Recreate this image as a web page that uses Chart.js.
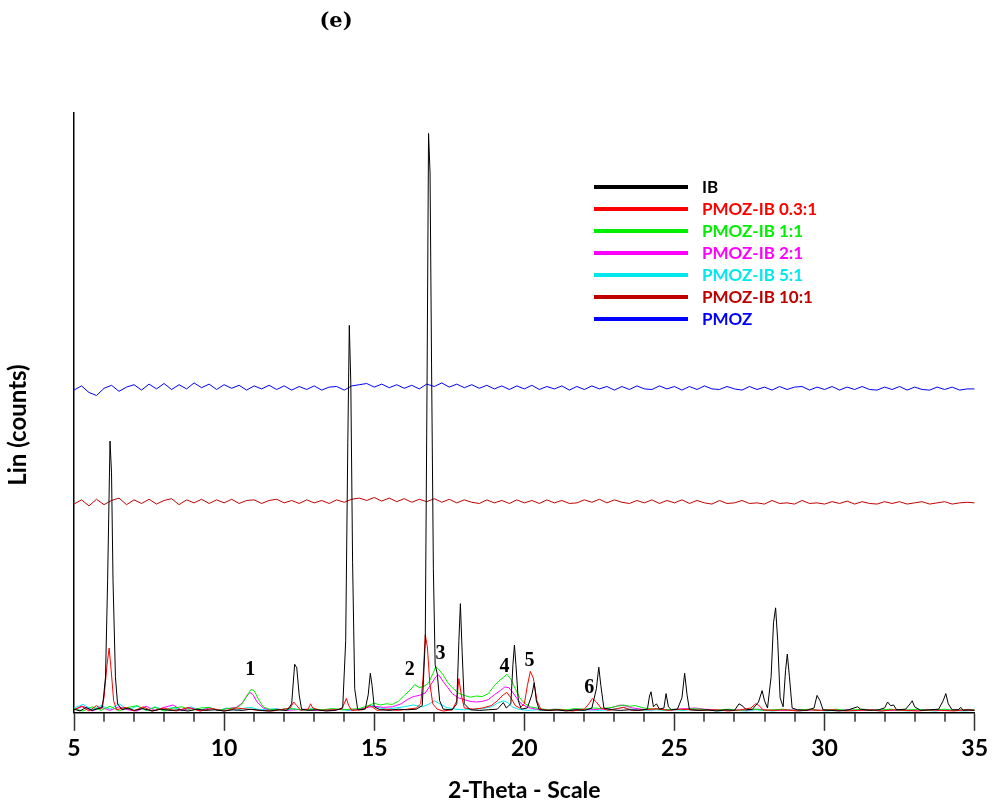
<!DOCTYPE html>
<html>
<head>
<meta charset="utf-8">
<title>XRD patterns (e)</title>
<script src="https://cdn.jsdelivr.net/npm/chart.js@4.4.0/dist/chart.umd.min.js"></script>
<style>
  html, body { margin: 0; padding: 0; background: #fff; }
  #wrap { width: 992px; height: 805px; }
</style>
</head>
<body>
<div id="wrap"><canvas id="xrd" width="992" height="805"></canvas></div>
<script>
/* ================================
   XRD patterns, panel (e)
   y is arbitrary (Lin counts), 10:1 and PMOZ are stacked upward
================================ */

// shared 2-theta grid for the two flat (amorphous) traces
const scanX = [
  5, 5.25, 5.5, 5.75, 6, 6.25, 6.5, 6.75, 7, 7.25,
  7.5, 7.75, 8, 8.25, 8.5, 8.75, 9, 9.25, 9.5, 9.75,
  10, 10.25, 10.5, 10.75, 11, 11.25, 11.5, 11.75, 12, 12.25,
  12.5, 12.75, 13, 13.25, 13.5, 13.75, 14, 14.25, 14.5, 14.75,
  15, 15.25, 15.5, 15.75, 16, 16.25, 16.5, 16.75, 17, 17.25,
  17.5, 17.75, 18, 18.25, 18.5, 18.75, 19, 19.25, 19.5, 19.75,
  20, 20.25, 20.5, 20.75, 21, 21.25, 21.5, 21.75, 22, 22.25,
  22.5, 22.75, 23, 23.25, 23.5, 23.75, 24, 24.25, 24.5, 24.75,
  25, 25.25, 25.5, 25.75, 26, 26.25, 26.5, 26.75, 27, 27.25,
  27.5, 27.75, 28, 28.25, 28.5, 28.75, 29, 29.25, 29.5, 29.75,
  30, 30.25, 30.5, 30.75, 31, 31.25, 31.5, 31.75, 32, 32.25,
  32.5, 32.75, 33, 33.25, 33.5, 33.75, 34, 34.25, 34.5, 34.75,
  35
];

const pmozY = [
  53.8, 54.5, 53.4, 52.9, 54.1, 54.6, 53.6, 54.3, 54.7, 53.8,
  54.8, 54.0, 54.9, 53.9, 54.7, 54.0, 55.0, 54.2, 54.8, 53.9,
  54.7, 54.1, 54.6, 53.8, 54.5, 54.0, 54.6, 53.9, 54.5, 53.8,
  54.4, 53.9, 54.5, 53.8, 54.3, 54.4, 53.8, 54.5, 54.7, 54.9,
  54.3, 54.8, 54.2, 54.7, 54.1, 54.6, 54.0, 54.8, 54.4, 55.0,
  54.3, 54.8, 54.2, 54.7, 54.1, 54.6, 54.0, 54.5, 53.9, 54.5,
  54.0, 54.6, 53.9, 54.4, 54.0, 54.5, 53.8, 54.4, 53.9, 54.5,
  54.0, 54.4, 53.8, 54.4, 53.9, 54.5, 54.0, 53.9, 54.5, 54.0,
  54.4, 53.8, 54.4, 53.9, 54.5, 54.0, 53.9, 54.4, 54.0, 53.8,
  54.4, 53.9, 54.3, 53.8, 54.4, 53.9, 54.3, 54.4, 53.8, 54.3,
  53.9, 54.4, 53.8, 54.3, 53.9, 54.4, 53.9, 53.8, 54.3, 53.9,
  54.4, 53.8, 54.3, 53.9, 53.8, 54.3, 53.9, 54.3, 53.8, 54.0,
  54.0
];

const pmozIb10Y = [
  34.8, 35.5, 34.5, 35.6, 34.7, 35.4, 35.8, 34.7, 35.5, 34.9,
  35.6, 34.8, 35.4, 35.7, 34.7, 35.5, 35.0, 35.6, 34.9, 35.5,
  35.0, 35.6, 34.9, 35.4, 35.5, 34.9, 35.4, 35.6, 35.0, 35.4,
  34.9, 35.5, 35.0, 35.4, 34.9, 35.5, 35.1, 35.6, 35.8, 35.4,
  35.9, 35.3, 35.8, 35.2, 35.7, 35.1, 35.6, 35.2, 35.7, 35.1,
  35.6, 35.0, 35.5, 35.1, 34.9, 35.5, 35.0, 35.4, 34.9, 35.5,
  35.0, 35.4, 34.9, 35.5, 35.0, 35.4, 34.9, 35.0, 35.5, 35.1,
  35.6, 35.0, 35.5, 35.1, 34.9, 35.4, 35.0, 35.5, 34.9, 35.4,
  35.0, 35.5, 34.9, 35.4, 35.0, 34.8, 35.4, 34.9, 35.0, 35.4,
  34.9, 35.0, 34.8, 35.4, 34.9, 35.0, 34.8, 35.4, 34.9, 35.0,
  34.8, 35.2, 34.9, 35.3, 34.8, 35.2, 34.9, 34.8, 35.2, 34.9,
  35.2, 34.8, 35.0, 35.2, 34.8, 35.0, 35.2, 34.8, 35.0, 35.1,
  35.0
];

// IB (crystalline drug)
const ibX = [
  5.0, 5.2, 5.4, 5.6, 5.8, 5.95, 6.05, 6.12, 6.2, 6.25,
  6.3, 6.38, 6.45, 6.6, 6.8, 7.0, 7.3, 7.6, 7.9, 8.2,
  8.5, 8.8, 9.1, 9.4, 9.7, 10.0, 10.3, 10.6, 10.9, 11.2,
  11.5, 11.8, 12.1, 12.25, 12.35, 12.42, 12.5, 12.58, 12.8, 13.1,
  13.4, 13.7, 13.95, 14.05, 14.12, 14.17, 14.22, 14.28, 14.35, 14.45,
  14.7, 14.8, 14.87, 14.93, 15.0, 15.2, 15.5, 15.8, 16.1, 16.4,
  16.6, 16.7, 16.76, 16.81, 16.86, 16.91, 16.97, 17.03, 17.1, 17.18,
  17.3, 17.6, 17.75, 17.82, 17.87, 17.93, 18.0, 18.2, 18.5, 18.8,
  19.1, 19.3, 19.4, 19.55, 19.62, 19.67, 19.72, 19.8, 19.9, 20.1,
  20.25, 20.33, 20.4, 20.5, 20.8, 21.1, 21.4, 21.7, 22.0, 22.25,
  22.4, 22.48, 22.55, 22.65, 22.9, 23.2, 23.5, 23.8, 24.1, 24.17,
  24.22, 24.3, 24.4, 24.5, 24.65, 24.72, 24.8, 24.9, 25.1, 25.25,
  25.34, 25.42, 25.5, 25.8, 26.1, 26.4, 26.7, 27.0, 27.15, 27.25,
  27.4, 27.6, 27.8, 27.92, 28.0, 28.1, 28.22, 28.3, 28.37, 28.44,
  28.52, 28.62, 28.7, 28.76, 28.83, 28.92, 29.1, 29.4, 29.65, 29.75,
  29.85, 29.95, 30.2, 30.5, 30.8, 31.1, 31.2, 31.5, 31.8, 32.0,
  32.1, 32.2, 32.3, 32.4, 32.7, 32.85, 32.92, 33.0, 33.2, 33.5,
  33.8, 33.95, 34.04, 34.12, 34.25, 34.45, 34.54, 34.62, 34.8, 35.0
];
const ibY = [
  0.6, 0.3, 0.9, 0.4, 0.7, 0.9, 6, 22, 45.3, 40,
  22, 6, 1.5, 0.5, 0.8, 0.4, 0.7, 0.3, 0.6, 0.4,
  0.5, 0.3, 0.6, 0.4, 0.5, 0.3, 0.5, 0.4, 0.6, 0.4,
  0.3, 0.5, 0.4, 1.5, 8.1, 7.5, 3, 0.6, 0.4, 0.5,
  0.3, 0.4, 0.8, 12, 45, 64.6, 55, 25, 4, 0.5,
  0.6, 3, 6.6, 4.5, 1, 0.5, 0.4, 0.6, 0.5, 0.6,
  1.2, 12, 55, 96.6, 90, 58, 24, 8, 6.5, 2,
  0.6, 0.5, 1.5, 12, 18.2, 10, 1.5, 0.5, 0.4, 0.5,
  0.6, 1.7, 0.8, 1.5, 8, 11.3, 8, 2, 0.6, 0.8,
  3, 5, 2, 0.5, 0.4, 0.5, 0.3, 0.5, 0.4, 0.8,
  4, 7.6, 4.5, 0.8, 0.5, 0.4, 0.5, 0.4, 0.6, 2.8,
  3.5, 1, 1.5, 0.6, 0.8, 3.2, 1, 0.5, 0.6, 2.5,
  6.6, 3, 0.5, 0.4, 0.5, 0.3, 0.5, 0.4, 1.5, 1.2,
  0.5, 0.6, 1.8, 3.7, 2, 0.8, 6, 15, 17.5, 12,
  2.5, 1, 7, 9.8, 6, 0.8, 0.5, 0.4, 0.8, 2.9,
  2, 0.5, 0.4, 0.3, 0.5, 1, 0.6, 0.4, 0.5, 0.8,
  1.8, 1.2, 1.3, 0.5, 0.6, 1.5, 2, 1, 0.4, 0.5,
  0.6, 2, 3.2, 1.5, 0.5, 0.5, 0.9, 0.4, 0.5, 0.4
];

// PMOZ-IB 0.3:1
const ib03X = [
  5.0, 5.25, 5.5, 5.75, 5.9, 6.0, 6.1, 6.17, 6.24, 6.32,
  6.42, 6.7, 7.0, 7.3, 7.6, 8.0, 8.4, 8.8, 9.2, 9.6,
  10.0, 10.4, 10.8, 11.2, 11.6, 12.0, 12.2, 12.32, 12.42, 12.55,
  12.8, 12.88, 12.95, 13.2, 13.6, 13.9, 14.0, 14.07, 14.15, 14.25,
  14.6, 14.85, 14.95, 15.1, 15.4, 15.8, 16.1, 16.4, 16.55, 16.63,
  16.7, 16.77, 16.85, 16.95, 17.1, 17.3, 17.6, 17.75, 17.82, 17.9,
  18.0, 18.3, 18.6, 18.9, 19.1, 19.3, 19.42, 19.55, 19.7, 19.85,
  20.0, 20.1, 20.2, 20.3, 20.42, 20.55, 20.8, 21.2, 21.6, 22.0,
  22.15, 22.27, 22.4, 22.55, 22.8, 23.1, 23.3, 23.6, 24.0, 24.4,
  24.8, 25.2, 25.6, 26.0, 26.4, 26.8, 27.2, 27.55, 27.7, 27.8,
  27.95, 28.3, 28.7, 29.1, 29.5, 29.9, 30.3, 30.7, 31.1, 31.5,
  31.9, 32.3, 32.7, 33.1, 33.5, 33.9, 34.3, 34.7, 35.0
];
const ib03Y = [
  0.5, 1.1, 0.3, 1.2, 0.6, 2.5, 8, 10.8, 7, 2,
  0.5, 0.9, 0.3, 1.0, 0.3, 0.8, 0.3, 0.9, 0.3, 0.7,
  0.3, 0.8, 0.6, 0.4, 0.3, 0.6, 0.8, 1.8, 1.2, 0.4,
  0.6, 1.5, 0.8, 0.4, 0.5, 0.6, 1.5, 2.4, 1.2, 0.4,
  0.5, 1.2, 0.9, 0.4, 0.6, 0.4, 0.6, 0.8, 1.5, 6,
  13, 11, 5, 1.5, 0.6, 0.3, 0.5, 2, 5.7, 3,
  0.8, 0.6, 0.8, 1.2, 2, 3, 3.4, 2.5, 1.2, 0.8,
  1.5, 4.5, 6.9, 5.8, 2, 0.6, 0.4, 0.5, 0.3, 0.6,
  1.5, 2.4, 1.8, 0.8, 0.4, 0.7, 0.9, 0.4, 0.5, 0.7,
  0.4, 0.6, 0.5, 0.4, 0.5, 0.3, 0.5, 0.8, 1.5, 1.3,
  0.5, 0.4, 0.5, 0.3, 0.5, 0.4, 0.5, 0.3, 0.4, 0.5,
  0.3, 0.5, 0.4, 0.3, 0.5, 0.4, 0.3, 0.5, 0.4
];

// PMOZ-IB 1:1
const ib1X = [
  5.0, 5.3, 5.6, 5.9, 6.2, 6.5, 6.8, 7.1, 7.4, 7.7,
  8.0, 8.3, 8.6, 8.9, 9.2, 9.5, 9.8, 10.1, 10.4, 10.6,
  10.75, 10.9, 11.0, 11.15, 11.3, 11.5, 11.8, 12.1, 12.4, 12.7,
  13.0, 13.3, 13.6, 13.9, 14.2, 14.5, 14.8, 15.0, 15.2, 15.4,
  15.6, 15.8, 16.0, 16.2, 16.35, 16.5, 16.65, 16.8, 16.95, 17.05,
  17.15, 17.3, 17.45, 17.6, 17.8, 18.0, 18.2, 18.4, 18.6, 18.8,
  19.0, 19.15, 19.3, 19.42, 19.55, 19.7, 19.85, 20.0, 20.2, 20.5,
  20.8, 21.1, 21.4, 21.7, 22.0, 22.3, 22.6, 22.9, 23.1, 23.3,
  23.5, 23.7, 23.9, 24.1, 24.4, 24.7, 25.0, 25.3, 25.6, 25.9,
  26.2, 26.5, 26.8, 27.1, 27.4, 27.7, 28.0, 28.3, 28.6, 28.9,
  29.2, 29.5, 29.8, 30.1, 30.4, 30.7, 31.0, 31.3, 31.6, 31.9,
  32.2, 32.5, 32.8, 33.1, 33.4, 33.7, 34.0, 34.3, 34.6, 35.0
];
const ib1Y = [
  0.7, 0.3, 1.0, 0.4, 1.1, 0.3, 0.9, 1.2, 0.4, 0.9,
  0.3, 0.8, 1.0, 0.4, 0.8, 0.9, 0.4, 0.7, 0.8, 1.5,
  2.8, 3.9, 3.7, 2.2, 1.0, 0.6, 0.5, 0.7, 0.6, 0.5,
  0.6, 0.5, 0.7, 0.5, 0.6, 0.7, 1.2, 1.6, 1.3, 1.5,
  1.4, 1.9, 2.9, 3.8, 4.7, 4.2, 4.4, 4.9, 6.5, 7.7,
  7.2, 6.3, 5.0, 4.2, 3.3, 2.9, 2.6, 2.8, 2.7, 3.2,
  4.5, 5.3, 5.9, 6.4, 5.6, 4.0, 2.5, 1.6, 1.0, 0.7,
  0.5, 0.6, 0.5, 0.7, 0.6, 0.8, 0.7, 0.9, 1.1, 1.3,
  1.1, 1.2, 0.9, 0.7, 0.6, 0.5, 0.6, 0.5, 0.7, 0.6,
  0.4, 0.5, 0.6, 0.4, 0.5, 0.6, 0.4, 0.5, 0.6, 0.4,
  0.5, 0.6, 0.4, 0.5, 0.6, 0.4, 0.5, 0.6, 0.4, 0.5,
  0.6, 0.4, 0.5, 0.6, 0.4, 0.5, 0.6, 0.4, 0.5, 0.5
];

// PMOZ-IB 2:1
const ib2X = [
  5.0, 5.3, 5.6, 5.9, 6.2, 6.5, 6.8, 7.1, 7.4, 7.7,
  8.0, 8.3, 8.6, 8.9, 9.2, 9.5, 9.8, 10.1, 10.4, 10.6,
  10.75, 10.85, 10.95, 11.1, 11.3, 11.5, 11.8, 12.1, 12.4, 12.7,
  13.0, 13.3, 13.6, 13.9, 14.2, 14.5, 14.8, 15.0, 15.3, 15.6,
  15.9, 16.1, 16.3, 16.5, 16.7, 16.9, 17.05, 17.15, 17.3, 17.45,
  17.6, 17.8, 18.0, 18.2, 18.4, 18.6, 18.8, 19.0, 19.2, 19.35,
  19.48, 19.6, 19.75, 19.9, 20.1, 20.4, 20.7, 21.0, 21.3, 21.6,
  21.9, 22.2, 22.5, 22.8, 23.0, 23.2, 23.4, 23.6, 23.9, 24.2,
  24.5, 24.8, 25.1, 25.4, 25.7, 26.0, 26.3, 26.6, 26.9, 27.2,
  27.5, 27.8, 28.1, 28.4, 28.7, 29.0, 29.3, 29.6, 29.9, 30.2,
  30.5, 30.8, 31.1, 31.4, 31.7, 32.0, 32.3, 32.6, 32.9, 33.2,
  33.5, 33.8, 34.1, 34.4, 34.7, 35.0
];
const ib2Y = [
  0.5, 1.1, 0.3, 0.9, 0.4, 1.0, 0.5, 0.3, 1.1, 0.4,
  0.9, 1.3, 0.4, 0.8, 0.3, 0.8, 0.4, 0.7, 0.9, 1.6,
  2.7, 3.4, 3.1, 1.8, 0.8, 0.5, 0.6, 0.4, 0.5, 0.6,
  0.4, 0.5, 0.4, 0.6, 0.5, 0.6, 0.9, 1.1, 0.9, 1.0,
  1.5, 2.2, 2.7, 2.9, 3.3, 4.8, 6.0, 6.3, 5.2, 4.2,
  3.2, 2.5, 2.2, 1.9, 1.8, 1.9, 2.2, 3.0, 3.7, 4.3,
  4.2, 3.5, 2.4, 1.5, 0.9, 0.6, 0.5, 0.6, 0.4, 0.5,
  0.6, 0.5, 0.6, 0.7, 1.0, 1.3, 1.1, 0.8, 0.6, 0.5,
  0.6, 0.5, 0.6, 0.7, 0.8, 0.6, 0.5, 0.4, 0.5, 0.4,
  0.5, 0.6, 0.4, 0.5, 0.4, 0.5, 0.4, 0.5, 0.4, 0.5,
  0.4, 0.5, 0.4, 0.5, 0.4, 0.5, 0.4, 0.5, 0.4, 0.5,
  0.4, 0.5, 0.4, 0.5, 0.4, 0.5
];

// PMOZ-IB 5:1
const ib5X = [
  5.0, 5.3, 5.6, 5.9, 6.2, 6.5, 6.8, 7.1, 7.4, 7.7,
  8.0, 8.3, 8.6, 8.9, 9.2, 9.5, 9.8, 10.1, 10.4, 10.7,
  10.9, 11.1, 11.4, 11.7, 12.0, 12.3, 12.6, 12.9, 13.2, 13.5,
  13.8, 14.1, 14.4, 14.7, 14.9, 15.1, 15.4, 15.7, 16.0, 16.3,
  16.6, 16.8, 17.0, 17.15, 17.4, 17.7, 18.0, 18.3, 18.6, 18.9,
  19.1, 19.3, 19.45, 19.6, 19.8, 20.1, 20.4, 20.7, 21.0, 21.3,
  21.6, 21.9, 22.2, 22.5, 22.8, 23.1, 23.3, 23.5, 23.8, 24.1,
  24.4, 24.7, 25.0, 25.3, 25.6, 25.9, 26.2, 26.5, 26.8, 27.1,
  27.4, 27.7, 28.0, 28.3, 28.6, 28.9, 29.2, 29.5, 29.8, 30.1,
  30.4, 30.7, 31.0, 31.3, 31.6, 31.9, 32.2, 32.5, 32.8, 33.1,
  33.4, 33.7, 34.0, 34.3, 34.6, 35.0
];
const ib5Y = [
  0.8, 1.4, 0.5, 1.2, 0.6, 1.5, 0.5, 1.1, 0.4, 1.0,
  0.5, 0.9, 0.4, 1.0, 0.4, 0.9, 0.4, 0.8, 0.4, 0.8,
  0.9, 0.6, 0.5, 0.7, 0.4, 0.7, 0.4, 0.7, 0.4, 0.6,
  0.6, 0.4, 0.5, 0.8, 1.3, 0.9, 0.6, 0.8, 1.0, 1.3,
  1.0, 1.4, 2.0, 1.6, 0.9, 0.6, 0.5, 0.6, 0.7, 1.0,
  1.6, 2.0, 1.7, 1.0, 0.6, 0.4, 0.5, 0.4, 0.5, 0.4,
  0.5, 0.4, 0.5, 0.4, 0.5, 0.7, 0.9, 0.6, 0.5, 0.4,
  0.5, 0.4, 0.5, 0.4, 0.6, 0.4, 0.5, 0.3, 0.5, 0.4,
  0.3, 0.5, 0.4, 0.3, 0.5, 0.4, 0.3, 0.5, 0.4, 0.3,
  0.5, 0.4, 0.3, 0.5, 0.4, 0.3, 0.5, 0.4, 0.3, 0.5,
  0.4, 0.3, 0.5, 0.4, 0.3, 0.4
];

const seriesNames = ['IB', 'PMOZ-IB 0.3:1', 'PMOZ-IB 1:1', 'PMOZ-IB 2:1', 'PMOZ-IB 5:1', 'PMOZ-IB 10:1', 'PMOZ'];
const seriesColors = ['#000000', '#ff0000', '#00ee00', '#ff00ff', '#00e8ee', '#c00000', '#0000ff'];

// numbered reflections (label anchor in data units)
const peakNo = ['1', '2', '3', '4', '5', '6'];
const peakX = [10.87, 16.18, 17.21, 19.34, 20.17, 22.16];
const peakY = [7.1, 7.1, 9.9, 7.6, 8.6, 4.2];

const xTicks = { min: 5, max: 35, major: 5, minor: 1 };

const toPoints = (xs, ys) => xs.map((x, i) => ({ x: x, y: ys[i] }));

const traces = [
  toPoints(ibX, ibY),
  toPoints(ib03X, ib03Y),
  toPoints(ib1X, ib1Y),
  toPoints(ib2X, ib2Y),
  toPoints(ib5X, ib5Y),
  toPoints(scanX, pmozIb10Y),
  toPoints(scanX, pmozY)
];

// extras: minor ticks, peak numbers, legend block, y title, panel letter
const xrdDecor = {
  id: 'xrdDecor',
  afterDraw(chart) {
    const ctx = chart.ctx;
    const xs = chart.scales.x;
    const ys = chart.scales.y;
    const area = chart.chartArea;
    ctx.save();

    ctx.strokeStyle = '#333';
    ctx.lineWidth = 1.5;
    xs.ticks.forEach(t => {
      if (t.value % xTicks.major === 0) return;
      const px = Math.round(xs.getPixelForValue(t.value));
      ctx.beginPath();
      ctx.moveTo(px, area.bottom);
      ctx.lineTo(px, area.bottom + 9);
      ctx.stroke();
    });

    ctx.fillStyle = '#000';
    ctx.textAlign = 'center';
    ctx.textBaseline = 'middle';
    ctx.font = 'bold 20px "Liberation Serif"';
    peakNo.forEach((n, i) => {
      ctx.fillText(n, xs.getPixelForValue(peakX[i]), ys.getPixelForValue(peakY[i]));
    });

    // legend
    ctx.textAlign = 'left';
    ctx.font = 'bold 17px Lato';
    chart.data.datasets.forEach((ds, i) => {
      const y = 187 + i * 22;
      ctx.strokeStyle = ds.borderColor;
      ctx.lineWidth = 4;
      ctx.beginPath();
      ctx.moveTo(594, y);
      ctx.lineTo(688, y);
      ctx.stroke();
      ctx.fillStyle = ds.borderColor;
      ctx.fillText(ds.label, 702, y + 1);
    });

    ctx.fillStyle = '#000';
    ctx.textAlign = 'center';
    ctx.font = 'bold 24px Lato';
    ctx.translate(18.5, 425);
    ctx.rotate(-Math.PI / 2);
    ctx.fillText('Lin (counts)', 0, 0);
    ctx.restore();

    ctx.save();
    ctx.fillStyle = '#000';
    ctx.textAlign = 'center';
    ctx.textBaseline = 'middle';
    ctx.font = 'bold 21px "DejaVu Serif"';
    ctx.fillText('(e)', 336, 22);
    ctx.restore();
  }
};

const chart = new Chart(document.getElementById('xrd'), {
  type: 'line',
  data: {
    datasets: traces.map((pts, i) => ({
      label: seriesNames[i],
      data: pts,
      borderColor: seriesColors[i],
      borderWidth: 1,
      pointRadius: 0,
      fill: false,
      tension: 0
    }))
  },
  options: {
    responsive: false,
    animation: false,
    layout: { padding: { left: 66, right: 8, top: 113, bottom: 1 } },
    plugins: {
      legend: { display: false },
      tooltip: { enabled: false }
    },
    scales: {
      x: {
        type: 'linear',
        min: xTicks.min,
        max: xTicks.max,
        border: { display: true, color: '#000', width: 1.5 },
        grid: {
          display: true,
          drawOnChartArea: false,
          drawTicks: true,
          tickLength: 18,
          tickWidth: 1.5,
          tickColor: (c) => (c.tick && c.tick.value % xTicks.major === 0) ? '#333' : 'rgba(0,0,0,0)'
        },
        ticks: {
          stepSize: xTicks.minor,
          autoSkip: false,
          maxRotation: 0,
          padding: 4,
          color: '#000',
          font: { family: 'Lato', weight: 'bold', size: 23 },
          callback: (v) => v % xTicks.major === 0 ? v : ''
        },
        title: {
          display: true,
          text: '2-Theta - Scale',
          color: '#000',
          font: { family: 'Lato', weight: 'bold', size: 23 },
          padding: { top: 10, bottom: 0 }
        }
      },
      y: {
        min: 0,
        max: 100,
        ticks: { display: false },
        grid: { display: false },
        border: { display: true, color: '#000', width: 1.5 }
      }
    }
  },
  plugins: [xrdDecor]
});
</script>
</body>
</html>
